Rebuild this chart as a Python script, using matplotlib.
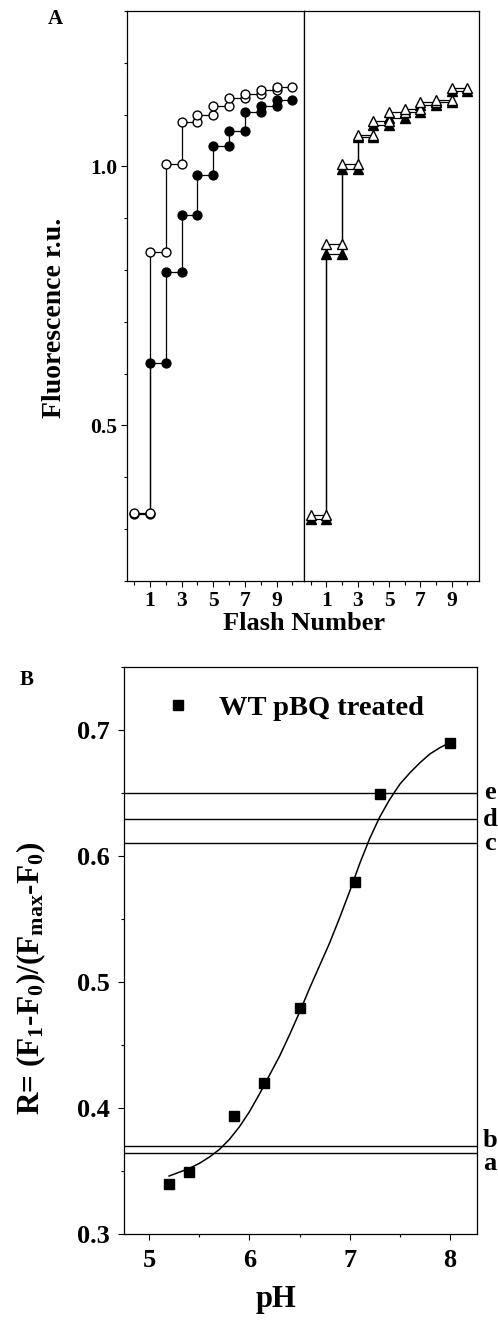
import numpy as np
import matplotlib
matplotlib.use("Agg")
import matplotlib.pyplot as plt
from matplotlib.ticker import MultipleLocator, FixedLocator

plt.rcParams['font.family'] = ['Liberation Serif', 'DejaVu Serif']
plt.rcParams['font.weight'] = 'bold'
plt.rcParams['mathtext.fontset'] = 'custom'
plt.rcParams['mathtext.rm'] = 'Liberation Serif:bold'
plt.rcParams['mathtext.it'] = 'Liberation Serif:bold'
plt.rcParams['mathtext.bf'] = 'Liberation Serif:bold'

# Panel A data: fluorescence after each flash (value n is held from flash n to n+1)
flash = np.arange(10)
circ_open = [0.332, 0.834, 1.004, 1.085, 1.100, 1.116, 1.131, 1.139, 1.147, 1.154]
circ_filled = [0.330, 0.620, 0.797, 0.907, 0.983, 1.039, 1.068, 1.104, 1.116, 1.129]
tri_open = [0.328, 0.850, 1.004, 1.060, 1.087, 1.104, 1.110, 1.124, 1.129, 1.152]
tri_filled = [0.319, 0.830, 0.994, 1.056, 1.080, 1.093, 1.105, 1.118, 1.125, 1.146]

# Panel B data
ph = [5.2, 5.4, 5.85, 6.15, 6.5, 7.05, 7.3, 8.0]
ratio = [0.340, 0.349, 0.394, 0.420, 0.479, 0.579, 0.649, 0.690]
fit_ph = [5.2, 5.3, 5.4, 5.5, 5.6, 5.7, 5.8, 5.9, 6.0, 6.1, 6.2, 6.3, 6.4, 6.5, 6.6,
          6.7, 6.8, 6.9, 7.0, 7.1, 7.2, 7.3, 7.4, 7.5, 7.6, 7.7, 7.8, 7.9, 8.0]
fit_r = [0.346, 0.349, 0.352, 0.356, 0.361, 0.367, 0.375, 0.385, 0.397, 0.411, 0.426,
         0.441, 0.458, 0.476, 0.495, 0.513, 0.531, 0.551, 0.572, 0.594, 0.614, 0.631,
         0.645, 0.657, 0.666, 0.674, 0.681, 0.686, 0.690]
ref_names = ['a', 'b', 'c', 'd', 'e']
ref_values = [0.364, 0.370, 0.610, 0.629, 0.650]
ref_label_shift = [-0.008, 0.004, 0.0, 0.0, 0.0]


def steps(values):
    # each value drawn from flash n to flash n+1
    xs = np.column_stack([flash, flash + 1]).ravel()
    ys = np.repeat(values, 2)
    return xs, ys


fig = plt.figure(figsize=(4.98, 13.3), dpi=100)

axL = fig.add_axes([0.255, 0.5632, 0.355, 0.4286])
axR = fig.add_axes([0.610, 0.5632, 0.351, 0.4286], sharey=axL)

lw = 0.9
for ax, filled, opened, mk, ms in [(axL, circ_filled, circ_open, 'o', 6.4),
                                   (axR, tri_filled, tri_open, '^', 7)]:
    x, y = steps(filled)
    ax.plot(x, y, color='black', lw=lw, marker=mk, ms=ms, mfc='black', mec='black', zorder=2)
    x, y = steps(opened)
    ax.plot(x, y, color='black', lw=lw, marker=mk, ms=ms, mfc='white', mec='black', mew=1.0, zorder=3)
    ax.set_xlim(-0.45, 10.72)
    ax.xaxis.set_major_locator(FixedLocator([1, 3, 5, 7, 9]))
    ax.xaxis.set_minor_locator(FixedLocator([0, 2, 4, 6, 8, 10]))
    ax.tick_params(axis='x', which='both', direction='out', top=False, labelsize=15.5, pad=3)
    ax.tick_params(axis='x', which='major', length=4, width=0.8)
    ax.tick_params(axis='x', which='minor', length=3, width=0.8)
    for s in ax.spines.values():
        s.set_linewidth(0.9)

axL.set_ylim(0.2, 1.3)
axL.yaxis.set_major_locator(FixedLocator([0.5, 1.0]))
axL.yaxis.set_minor_locator(MultipleLocator(0.1))
axL.tick_params(axis='y', which='both', direction='out', right=False, labelsize=15.5, pad=3)
axL.tick_params(axis='y', which='major', length=4, width=0.8)
axL.tick_params(axis='y', which='minor', length=2.5, width=0.8)
axR.tick_params(axis='y', which='both', left=False, right=False, labelleft=False)
axL.set_ylabel('Fluorescence r.u.', fontsize=20, fontweight='bold')
axL.yaxis.set_label_coords(-0.34, 0.461)
fig.text(304 / 498, 1 - 623 / 1330, 'Flash Number', fontsize=19, fontweight='bold',
         ha='center', va='center')
fig.text(55 / 498, 1 - 19 / 1330, 'A', fontsize=15, fontweight='bold', ha='center', va='center')

# Panel B
axB = fig.add_axes([0.249, 0.0722, 0.709, 0.4263])
for name, val, dy in zip(ref_names, ref_values, ref_label_shift):
    axB.axhline(val, color='black', lw=1.0, zorder=1)
    axB.text(1.037, val + dy, name, transform=axB.get_yaxis_transform(), fontsize=19,
             fontweight='bold', ha='center', va='center')
axB.plot(fit_ph, fit_r, color='black', lw=1.1, zorder=2)
axB.plot(ph, ratio, ls='none', marker='s', ms=7.5, color='black', zorder=3,
         label='WT pBQ treated')
axB.set_xlim(4.75, 8.27)
axB.set_ylim(0.3, 0.75)
axB.xaxis.set_major_locator(MultipleLocator(1))
axB.xaxis.set_minor_locator(MultipleLocator(0.5))
axB.yaxis.set_major_locator(MultipleLocator(0.1))
axB.yaxis.set_minor_locator(MultipleLocator(0.05))
axB.tick_params(which='both', direction='out', top=False, right=False, labelsize=19)
axB.tick_params(axis='x', which='both', pad=6)
axB.tick_params(axis='y', which='both', pad=6)
axB.tick_params(which='major', length=4.5, width=0.8)
axB.tick_params(which='minor', length=2.5, width=0.8)
for s in axB.spines.values():
    s.set_linewidth(0.9)
axB.set_xlabel('pH', fontsize=22, fontweight='bold')
axB.xaxis.set_label_coords(0.43, -0.09)
axB.set_ylabel(r'R= (F$_1$-F$_0$)/(F$_{max}$-F$_0$)', fontsize=22.5, fontweight='bold')
axB.yaxis.set_label_coords(-0.215, 0.45)
axB.legend(loc='center left', bbox_to_anchor=(0.071, 0.928), frameon=False, fontsize=20.5,
           handlelength=1.0, handletextpad=0.95, borderpad=0, numpoints=1)
fig.text(27 / 498, 1 - 680 / 1330, 'B', fontsize=15, fontweight='bold', ha='center', va='center')

fig.savefig('out.png', dpi=100)
